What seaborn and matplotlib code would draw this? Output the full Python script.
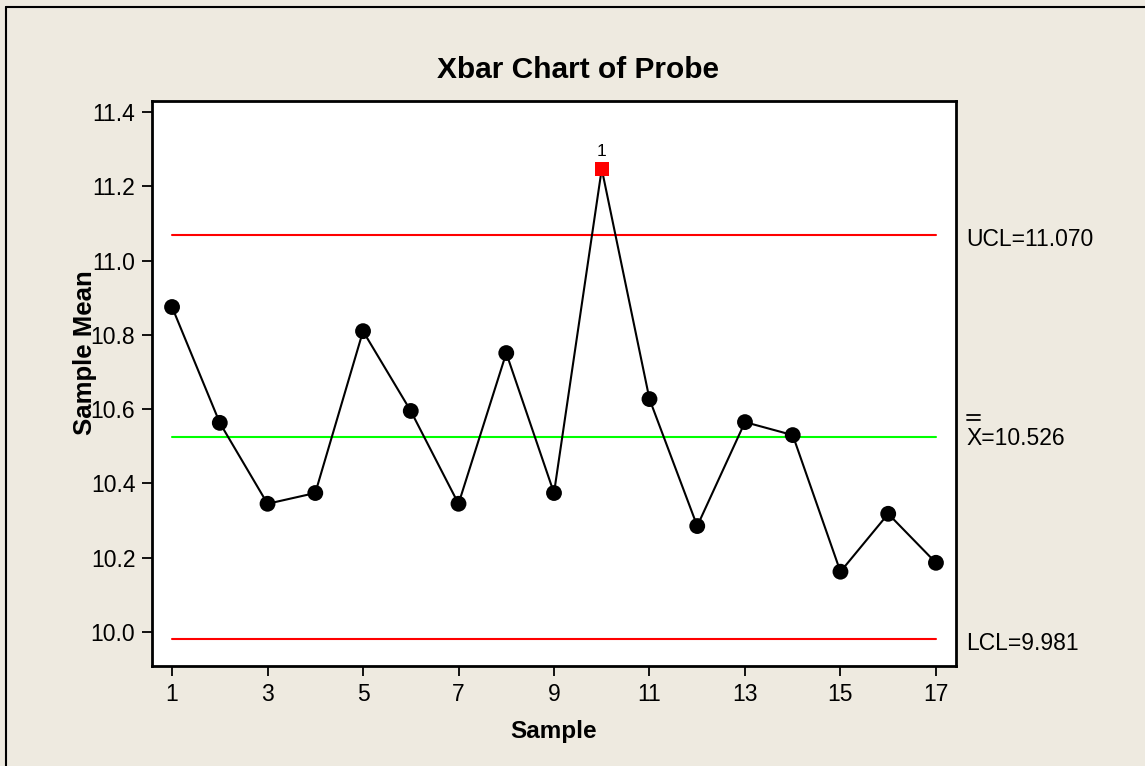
import numpy as np
import pandas as pd
import matplotlib
matplotlib.use("Agg")
import matplotlib.pyplot as plt
from matplotlib.lines import Line2D
from matplotlib.transforms import blended_transform_factory
import seaborn as sns

# sample means
samples = list(range(1, 18))
means = [10.875, 10.563, 10.345, 10.374, 10.810, 10.595, 10.345, 10.751, 10.374,
         11.247, 10.627, 10.285, 10.565, 10.530, 10.162, 10.318, 10.186]
ucl = 11.070
center = 10.526
lcl = 9.981
out_of_control = [10]   # sample flagged by test 1
x_ticks = [1, 3, 5, 7, 9, 11, 13, 15, 17]
y_ticks = [10.0, 10.2, 10.4, 10.6, 10.8, 11.0, 11.2, 11.4]

bg = "#EEEAE0"
sns.set_style("white")
plt.rcParams["font.family"] = ["Liberation Sans", "DejaVu Sans"]
plt.rcParams["text.color"] = "black"
plt.rcParams["axes.labelcolor"] = "black"
plt.rcParams["xtick.color"] = "black"
plt.rcParams["ytick.color"] = "black"

df = pd.DataFrame({"sample": samples, "mean": means})
df["status"] = np.where(df["sample"].isin(out_of_control), "out", "in")

fig = plt.figure(figsize=(11.45, 7.66), dpi=100, facecolor=bg)
ax = fig.add_axes([152 / 1145, 1 - 666 / 766, 804 / 1145, 565 / 766])
ax.set_facecolor("white")

# control limits
ax.plot([1, 17], [ucl, ucl], color="#FF0000", lw=1.5, zorder=1)
ax.plot([1, 17], [lcl, lcl], color="#FF0000", lw=1.5, zorder=1)
ax.plot([1, 17], [center, center], color="#00FF00", lw=1.5, zorder=1)

sns.lineplot(data=df, x="sample", y="mean", color="black", lw=1.5, ax=ax, zorder=2)
sns.scatterplot(data=df, x="sample", y="mean", hue="status", style="status",
                palette={"in": "black", "out": "#FF0000"},
                markers={"in": "o", "out": "s"},
                size="status", sizes={"in": 130, "out": 100},
                edgecolor="none", legend=False, ax=ax, zorder=3)

for s in out_of_control:
    m = df.loc[df["sample"] == s, "mean"].iloc[0]
    ax.annotate("1", (s, m), xytext=(0, 7), textcoords="offset points",
                ha="center", va="bottom", fontsize=12.5)

ax.set_xlim(0.58, 17.42)
ax.set_ylim(9.908, 11.43)
ax.set_xticks(x_ticks)
ax.set_yticks(y_ticks)
ax.set_yticklabels([f"{v:.1f}" for v in y_ticks])
ax.tick_params(axis="both", direction="out", length=7, width=1.3, color="black",
               labelsize=16.5, pad=5, left=True, bottom=True)
for sp in ax.spines.values():
    sp.set_color("black")
    sp.set_linewidth(2)

ax.set_xlabel("Sample", fontsize=17.5, fontweight="bold")
ax.set_ylabel("Sample Mean", fontsize=18.5, fontweight="bold")
ax.xaxis.set_label_coords(0.5, -0.096)
ax.yaxis.set_label_coords(-0.069, 0.554)

fig.text(578 / 1145, 1 - 70 / 766, "Xbar Chart of Probe", ha="center", va="center",
         fontsize=21.5, fontweight="bold")

# limit labels to the right of the plot
tr = blended_transform_factory(ax.transAxes, ax.transData)
ax.text(1.013, ucl - 0.012, f"UCL={ucl:.3f}", transform=tr, ha="left", va="center",
        fontsize=16.5, clip_on=False)
ax.text(1.013, lcl - 0.012, f"LCL={lcl:.3f}", transform=tr, ha="left", va="center",
        fontsize=16.5, clip_on=False)
ax.text(1.013, center - 0.006, f"X={center:.3f}", transform=tr, ha="left", va="center",
        fontsize=16.5, clip_on=False)
# double bar over the X
for yb in (415, 420):
    fig.add_artist(Line2D([967 / 1145, 980 / 1145], [1 - yb / 766, 1 - yb / 766],
                          color="black", lw=1.3, transform=fig.transFigure))

# frame lines at the top and left of the window
fig.add_artist(Line2D([6 / 1145, 6 / 1145], [0, 1 - 7 / 766], color="black", lw=1.5,
                      transform=fig.transFigure))
fig.add_artist(Line2D([6 / 1145, 1], [1 - 7 / 766, 1 - 7 / 766], color="black", lw=1.5,
                      transform=fig.transFigure))

fig.savefig("out.png", dpi=100, facecolor=bg)
